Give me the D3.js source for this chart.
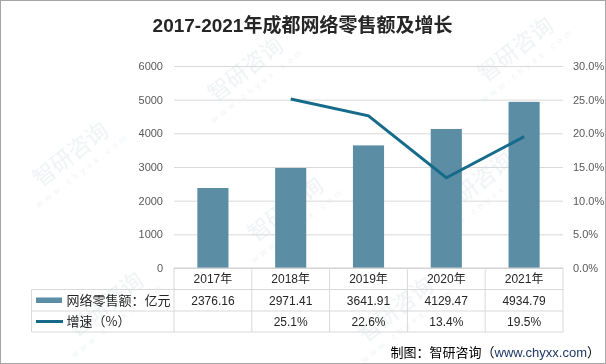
<!DOCTYPE html>
<html><head><meta charset="utf-8">
<script src="https://cdn.jsdelivr.net/npm/d3@7"></script>
<style>
html,body{margin:0;padding:0;background:#fff;}
svg{display:block;font-family:"Liberation Sans","Noto Sans CJK SC",sans-serif;}
</style></head>
<body>
<script>
const years = ["2017年","2018年","2019年","2020年","2021年"];
const sales = [2376.16, 2971.41, 3641.91, 4129.47, 4934.79];
const growth = [null, 25.1, 22.6, 13.4, 19.5];
const leftTicks = [0,1000,2000,3000,4000,5000,6000];
const rightTicks = [0,5,10,15,20,25,30];
const seriesNames = ["网络零售额：亿元","增速（%）"];
const title = "2017-2021年成都网络零售额及增长";
const source = ["制图：智研咨询（","www.chyxx.com","）"];

const W = 606, H = 364;
const svg = d3.select("body").append("svg").attr("width", W).attr("height", H);
svg.append("rect").attr("width", W).attr("height", H).attr("fill", "#fff");

// watermarks
const wm = svg.append("g").attr("fill", "#e3e9ef").attr("opacity", 0.6);
[[75,160],[250,75],[290,215],[520,55],[480,190],[110,310],[400,315]].forEach(([x,y])=>{
  const g = wm.append("g").attr("transform",`translate(${x},${y}) rotate(-38)`);
  g.append("text").attr("font-size",22).attr("font-family","Noto Sans CJK SC").attr("text-anchor","middle").text("智研咨询");
  g.append("text").attr("y",16).attr("font-size",9).attr("letter-spacing",4).attr("text-anchor","middle").text("www.chyxx.com");
});

const x0 = 174, x1 = 563, yTop = 66, yBot = 268;
const x = d3.scaleBand().domain(years).range([x0, x1]);
const y = d3.scaleLinear().domain([0, 6000]).range([yBot, yTop]);
const y2 = d3.scaleLinear().domain([0, 30]).range([yBot, yTop]);

// gridlines
const grid = svg.append("g").attr("transform", `translate(${x0},0)`)
  .call(d3.axisLeft(y).tickValues(leftTicks).tickSize(-(x1 - x0)).tickFormat(""));
grid.select(".domain").remove();
grid.selectAll("line").attr("stroke", "#d9d9d9");

// left axis labels
const la = svg.append("g").attr("transform", `translate(163,0)`)
  .call(d3.axisLeft(y).tickValues(leftTicks).tickSize(0).tickPadding(0).tickFormat(d3.format("d")));
la.select(".domain").remove();
la.selectAll("text").attr("font-size", 11).attr("fill", "#595959").attr("font-family","Liberation Sans");

// right axis labels
const ra = svg.append("g").attr("transform", `translate(573,0)`)
  .call(d3.axisRight(y2).tickValues(rightTicks).tickSize(0).tickPadding(0).tickFormat(d => d.toFixed(1) + "%"));
ra.select(".domain").remove();
ra.selectAll("text").attr("font-size", 11).attr("fill", "#595959").attr("font-family","Liberation Sans");

// bars
const bw = x.bandwidth() * 0.4;
svg.append("g").selectAll("rect").data(years).join("rect")
  .attr("x", (d) => x(d) + x.bandwidth() / 2 - bw / 2)
  .attr("y", (d, i) => y(sales[i]))
  .attr("width", bw)
  .attr("height", (d, i) => y(0) - y(sales[i]))
  .attr("fill", "#5b8ea4");

// line
const pts = years.map((d, i) => ({ d, v: growth[i] })).filter(p => p.v != null);
svg.append("path").datum(pts)
  .attr("d", d3.line().x(p => x(p.d) + x.bandwidth() / 2).y(p => y2(p.v)))
  .attr("fill", "none").attr("stroke", "#166b8b").attr("stroke-width", 3)
  .attr("stroke-linejoin", "miter");

// table
const tLeft = 31.5, rows = [268, 289.5, 311, 332];
const tg = svg.append("g").attr("stroke", "#d9d9d9").attr("stroke-width", 1);
tg.append("line").attr("x1", x0).attr("x2", x1).attr("y1", rows[0]).attr("y2", rows[0]).attr("stroke","#d0d0d0");
[1,2,3].forEach(r => tg.append("line").attr("x1", tLeft).attr("x2", x1).attr("y1", rows[r]).attr("y2", rows[r]));
tg.append("line").attr("x1", tLeft).attr("x2", tLeft).attr("y1", rows[1]).attr("y2", rows[3]);
years.concat([null]).forEach((d, i) => {
  const xx = d ? x(d) : x1;
  tg.append("line").attr("x1", xx).attr("x2", xx).attr("y1", rows[0]).attr("y2", rows[3]);
});

const txt = svg.append("g").attr("font-size", 12).attr("fill", "#262626").attr("text-anchor", "middle");
years.forEach((d, i) => {
  const cx = x(d) + x.bandwidth() / 2;
  txt.append("text").attr("x", cx).attr("y", 283).text(d);
  txt.append("text").attr("x", cx).attr("y", 304.5).text(sales[i].toFixed(2));
  if (growth[i] != null) txt.append("text").attr("x", cx).attr("y", 326).text(growth[i].toFixed(1) + "%");
});
// legend in table
svg.append("rect").attr("x", 36).attr("y", 297.5).attr("width", 26).attr("height", 5.5).attr("fill", "#5b8ea4");
svg.append("line").attr("x1", 36).attr("x2", 63).attr("y1", 321.5).attr("y2", 321.5).attr("stroke", "#166b8b").attr("stroke-width", 3);
svg.append("text").attr("x", 66.5).attr("y", 304.5).attr("font-size", 13).attr("fill", "#262626").attr("font-family","Noto Sans CJK SC").text(seriesNames[0]);
svg.append("text").attr("x", 66.5).attr("y", 326).attr("font-size", 13).attr("fill", "#262626").attr("font-family","Noto Sans CJK SC").text(seriesNames[1]);

// title
svg.append("text").attr("x", 302.5).attr("y", 31.5).attr("text-anchor", "middle")
  .attr("font-size", 19).attr("font-weight", "bold").attr("fill", "#262626").text(title);

// source
const st = svg.append("text").attr("x", 600).attr("y", 356.5).attr("text-anchor", "end").attr("font-size", 13).attr("fill", "#000");
st.append("tspan").attr("font-family","Noto Sans CJK SC").text(source[0]);
st.append("tspan").attr("fill", "#1f3864").text(source[1]);
st.append("tspan").attr("font-family","Noto Sans CJK SC").text(source[2]);

// outer border
svg.append("rect").attr("x", 0.5).attr("y", 0.5).attr("width", W - 1).attr("height", H - 1)
  .attr("fill", "none").attr("stroke", "#a6a6a6");
</script>
</body></html>
